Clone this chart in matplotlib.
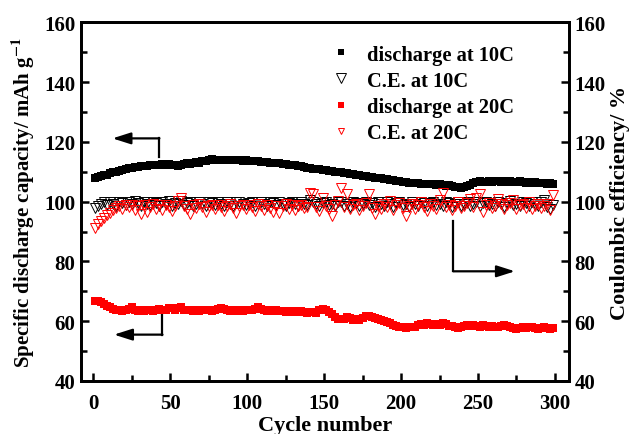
import numpy as np
import matplotlib
matplotlib.use('Agg')
import matplotlib.pyplot as plt
from matplotlib.ticker import MultipleLocator
from matplotlib.lines import Line2D

plt.rcParams['font.family'] = ['Liberation Serif', 'DejaVu Serif']
plt.rcParams['font.weight'] = 'bold'
plt.rcParams['mathtext.fontset'] = 'stix'
plt.rcParams['mathtext.default'] = 'bf'

# cycle index (every second cycle)
cycles = np.arange(1, 300, 2)

# discharge capacity at 10C, mAh/g
cap_10c = [
    108.0, 108.3, 108.6, 108.9, 109.1, 109.5, 109.8, 110.0, 110.4, 110.6,
    110.9, 111.2, 111.4, 111.6, 111.5, 111.9, 112.1, 112.0, 112.3, 112.2,
    112.4, 112.3, 112.6, 112.2, 112.5, 112.3, 112.4, 112.1, 112.4, 112.6,
    112.8, 112.6, 113.0, 113.2, 113.1, 113.5, 113.7, 113.9, 114.2, 114.0,
    114.1, 114.0, 113.8, 114.1, 113.9, 114.0, 113.8, 113.9, 113.7, 113.8,
    113.6, 113.7, 113.5, 113.6, 113.3, 113.4, 113.2, 113.0, 113.1, 112.8,
    112.9, 112.6, 112.7, 112.4, 112.2, 112.3, 111.9, 111.8, 111.6, 111.4,
    111.2, 111.1, 110.9, 110.8, 110.6, 110.5, 110.3, 110.2, 110.1, 109.9,
    109.8, 109.6, 109.5, 109.4, 109.2, 109.0, 108.9, 108.7, 108.6, 108.4,
    108.3, 108.1, 107.9, 107.8, 107.6, 107.5, 107.3, 107.2, 107.0, 106.9,
    106.7, 106.6, 106.4, 106.3, 106.1, 106.2, 106.0, 105.9, 106.0, 105.8,
    105.9, 105.7, 105.8, 105.6, 105.4, 105.5, 105.2, 105.0, 104.8, 104.7,
    104.9, 105.3, 105.7, 106.2, 106.6, 106.8, 106.5, 106.7, 106.9, 106.6,
    106.8, 107.0, 106.7, 106.9, 106.6, 106.8, 106.5, 106.7, 106.9, 106.6,
    106.4, 106.6, 106.3, 106.5, 106.2, 106.4, 106.1, 106.0, 106.2, 105.9,
]

# discharge capacity at 20C, mAh/g
cap_20c = [
    66.9, 66.7, 66.3, 65.6, 65.1, 64.7, 64.2, 63.9, 63.7, 63.5,
    63.8, 64.0, 64.6, 63.9, 63.4, 63.6, 63.3, 63.7, 63.9, 63.5,
    63.8, 64.1, 63.6, 63.8, 64.5, 64.3, 63.7, 64.4, 64.6, 63.9,
    63.6, 63.8, 63.5, 63.7, 63.4, 63.8, 63.6, 63.9, 63.5, 63.7,
    64.0, 64.5, 64.2, 63.6, 63.4, 63.7, 63.5, 63.8, 63.4, 63.6,
    63.7, 63.9, 64.2, 64.6, 64.1, 63.7, 63.5, 63.8, 63.4, 63.6,
    63.3, 63.5, 63.2, 63.4, 63.1, 63.3, 63.0, 63.4, 63.1, 62.9,
    63.2, 63.0, 62.8, 63.6, 64.0, 63.7, 63.1, 62.3, 61.4, 60.9,
    60.6, 60.9, 61.3, 61.0, 60.5, 60.8, 60.4, 61.0, 61.6, 61.9,
    61.4, 61.0, 60.6, 60.3, 60.0, 59.7, 59.3, 58.8, 58.4, 58.1,
    58.0, 57.8, 58.2, 57.9, 58.1, 58.6, 59.0, 58.7, 59.3, 59.0,
    58.6, 59.2, 58.8, 59.4, 58.9, 58.5, 58.3, 58.0, 57.7, 58.1,
    58.3, 58.6, 58.4, 58.7, 58.5, 58.2, 58.6, 58.3, 58.0, 58.4,
    58.2, 57.9, 58.5, 58.7, 58.3, 58.1, 57.7, 57.5, 57.8, 58.0,
    57.6, 57.9, 58.2, 57.7, 57.4, 57.8, 58.0, 57.6, 57.3, 57.7,
]

# coulombic efficiency at 10C, %
ce_10c = [
    98.0, 98.6, 99.3, 99.8, 98.9, 99.9, 99.4, 98.7, 100.0, 99.5,
    98.8, 99.9, 99.2, 100.1, 99.6, 98.6, 99.9, 99.3, 98.9, 100.0,
    99.5, 98.7, 99.8, 99.2, 100.1, 98.5, 99.7, 99.4, 100.2, 98.8,
    99.6, 99.9, 98.6, 99.3, 100.0, 99.1, 98.4, 99.8, 99.5, 98.9,
    100.0, 99.3, 98.7, 99.9, 99.4, 98.5, 99.8, 100.0, 99.2, 98.8,
    99.7, 99.9, 98.6, 99.4, 100.0, 99.1, 98.7, 99.8, 99.5, 98.9,
    99.9, 99.3, 98.6, 99.7, 100.0, 99.2, 98.4, 99.8, 99.4, 98.8,
    100.6, 99.9, 99.1, 98.5, 99.7, 99.9, 98.9, 99.3, 98.4, 99.8,
    100.0, 98.7, 99.4, 98.3, 99.9, 99.6, 98.6, 99.2, 100.0, 98.8,
    99.5, 98.2, 99.8, 99.3, 98.5, 99.9, 99.1, 98.3, 99.7, 100.0,
    98.9, 99.4, 98.2, 99.8, 99.2, 98.6, 99.9, 99.5, 98.4, 99.7,
    100.0, 98.8, 99.3, 98.5, 99.9, 99.6, 98.3, 99.1, 99.8, 98.7,
    99.4, 100.0, 98.6, 99.2, 99.8, 98.4, 99.6, 100.0, 98.9, 99.3,
    98.5, 99.9, 99.4, 98.2, 99.7, 100.1, 98.8, 99.3, 98.6, 99.9,
    99.5, 98.7, 100.0, 99.2, 98.4, 99.8, 100.7, 98.1, 97.6, 98.9,
]

# coulombic efficiency at 20C, %
ce_20c = [
    91.2, 92.4, 93.5, 94.6, 95.4, 96.3, 97.1, 97.8, 98.4, 97.6,
    98.8, 98.1, 99.0, 97.3, 98.6, 96.0, 98.9, 96.4, 98.2, 99.1,
    97.7, 98.8, 97.2, 99.0, 98.3, 96.8, 98.7, 100.3, 101.3, 98.4,
    97.5, 95.9, 98.8, 97.9, 99.1, 98.2, 96.4, 98.6, 99.0, 97.4,
    98.9, 98.1, 97.0, 98.7, 99.2, 97.8, 96.2, 98.5, 99.0, 97.6,
    98.8, 98.2, 96.9, 99.1, 98.4, 97.3, 98.9, 98.0, 96.6, 98.7,
    96.3, 98.5, 99.1, 97.7, 98.8, 97.2, 98.6, 99.0, 97.9, 98.3,
    102.8, 102.5, 98.1, 97.0, 101.2, 98.6, 97.4, 95.3, 98.9, 100.4,
    104.5, 98.2, 102.6, 97.6, 98.8, 99.2, 97.1, 98.5, 99.6, 102.5,
    98.0, 95.9, 98.7, 97.5, 99.3, 98.1, 100.3, 97.2, 98.9, 99.5,
    97.8, 95.3, 98.6, 99.1, 97.4, 98.8, 100.0, 98.3, 97.0, 99.4,
    98.5, 97.7, 100.6, 102.9, 98.2, 99.0, 97.3, 98.7, 99.8, 97.9,
    98.6, 99.5, 100.8, 98.1, 101.4, 102.7, 96.7, 98.9, 99.6, 97.8,
    98.4, 100.9, 99.2, 97.5, 98.8, 99.7, 100.5, 97.6, 98.9, 99.3,
    98.0, 99.8, 97.4, 98.7, 99.1, 97.9, 98.6, 99.4, 97.2, 102.3,
]

series_labels = ['discharge at 10C', 'C.E. at 10C', 'discharge at 20C', 'C.E. at 20C']

fig = plt.figure(figsize=(6.32, 4.35), dpi=100)
ax = fig.add_axes([0.128, 0.122, 0.772, 0.824])
ax2 = ax.twinx()

ax.plot(cycles, cap_10c, 's', color='black', ms=6, mew=0, zorder=3)
ax.plot(cycles, cap_20c, 's', color='red', ms=6, mew=0, zorder=3)
ax2.plot(cycles, ce_10c, 'v', mfc='none', mec='black', ms=7, mew=0.7)
ax2.plot(cycles, ce_20c, 'v', mfc='none', mec='red', ms=7, mew=0.7)

for a in (ax, ax2):
    a.set_xlim(-8, 309)
    a.set_ylim(40, 160)
    a.yaxis.set_major_locator(MultipleLocator(20))
    a.yaxis.set_minor_locator(MultipleLocator(10))
    for s in a.spines.values():
        s.set_linewidth(2.0)

ax.xaxis.set_major_locator(MultipleLocator(50))
ax.xaxis.set_minor_locator(MultipleLocator(25))
ax.tick_params(which='both', direction='in', width=1.8, labelsize=15,
               top=False, right=False)
ax.tick_params(which='major', length=6)
ax.tick_params(which='minor', length=4)
ax.tick_params(axis='x', pad=9)
ax.tick_params(axis='y', pad=4)
ax2.tick_params(which='both', direction='in', width=1.8, labelsize=15, pad=4)
ax2.tick_params(which='major', length=6)
ax2.tick_params(which='minor', length=4)

for lab in ax.get_xticklabels() + ax.get_yticklabels() + ax2.get_yticklabels():
    lab.set_fontweight('bold')

ax.set_xlabel('Cycle number', fontsize=16, fontweight='bold', labelpad=1)
ax.set_ylabel('Specific discharge capacity/ mAh g$^{-1}$', fontsize=15,
              fontweight='bold', labelpad=5)
ax2.set_ylabel('Coulombic efficiency/ %', fontsize=16, fontweight='bold',
               labelpad=3)

# arrows pointing each series to its axis
arrow_kw = dict(arrowstyle='-|>,head_length=1.1,head_width=0.35',
                color='black', lw=1.6, shrinkA=0, shrinkB=0)
ax.plot([43, 43], [115.0, 121.2], color='black', lw=1.6)
ax.annotate('', xy=(12.5, 121.2), xytext=(43, 121.2), arrowprops=arrow_kw)
ax.plot([45, 45], [63.9, 55.5], color='black', lw=1.6)
ax.annotate('', xy=(13.5, 55.5), xytext=(45, 55.5), arrowprops=arrow_kw)
ax2.plot([234, 234], [93.5, 76.7], color='black', lw=1.6)
ax2.annotate('', xy=(274, 76.7), xytext=(234, 76.7), arrowprops=arrow_kw)

handles = [
    Line2D([], [], ls='none', marker='s', color='black', ms=5, mew=0),
    Line2D([], [], ls='none', marker='v', mfc='none', mec='black', ms=6.5, mew=0.7),
    Line2D([], [], ls='none', marker='s', color='red', ms=5, mew=0),
    Line2D([], [], ls='none', marker='v', mfc='none', mec='red', ms=5, mew=0.7),
]
fig.legend(handles, series_labels, loc='upper left',
           bbox_to_anchor=(0.507, 0.919), frameon=False,
           prop={'size': 14.8, 'weight': 'bold'}, handlelength=1.0,
           handletextpad=0.75, labelspacing=0.3, borderpad=0)

fig.savefig('out.png', dpi=100)
